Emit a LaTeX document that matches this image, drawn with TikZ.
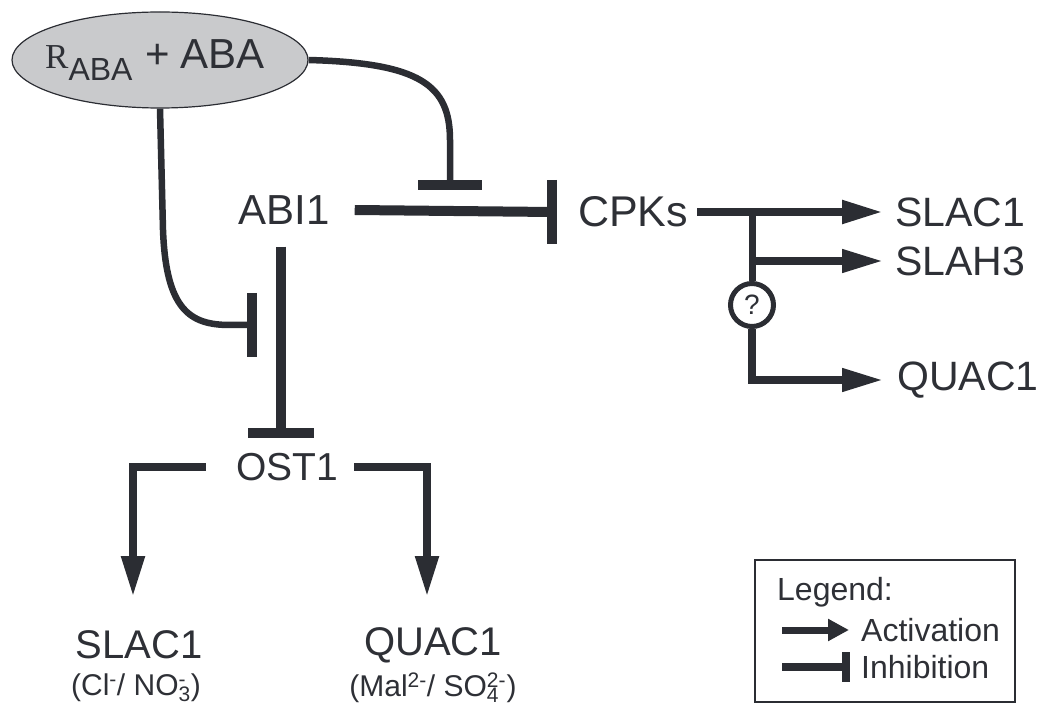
\documentclass[tikz,border=0pt]{standalone}
\usepackage{fontspec}
\setmainfont{Liberation Sans}
\newfontfamily\serifR{Liberation Serif}
\usetikzlibrary{arrows.meta,shapes.geometric}
\definecolor{ink}{HTML}{2B2D33}
\definecolor{txt}{HTML}{2E3036}
\definecolor{ellfill}{HTML}{C9CACC}
\newcommand{\supsub}[2]{\rlap{\textsuperscript{#1}}\textsubscript{#2}}
\begin{document}
\begin{tikzpicture}[x=1pt,y=-1pt,
  lbl/.style={text=txt, inner sep=0pt, font=\fontsize{41}{48}\selectfont},
  ionlbl/.style={text=txt, inner sep=0pt, font=\fontsize{30}{36}\selectfont},
  leglbl/.style={text=txt, inner sep=0pt, font=\fontsize{32}{38}\selectfont},
  inhline/.style={draw=ink, line width=10pt},
  barline/.style={draw=ink, line width=10pt},
  curveline/.style={draw=ink, line width=6.5pt},
  actline/.style={draw=ink, line width=7.5pt, -{Triangle[length=41pt,width=22pt]}},
  branchline/.style={draw=ink, line width=7pt},
]
\useasboundingbox (0,0) rectangle (1042,711);

% receptor ellipse
\node[ellipse, draw=ink, line width=1.2pt, fill=ellfill, minimum width=296, minimum height=96, inner sep=0pt] (rec) at (160,60) {};
\node[inner sep=0pt, text=txt, anchor=base west] (rtxt) at (45,69)
  {{\serifR\fontsize{35}{40}\selectfont R}\raisebox{-12pt}{\fontsize{32}{36}\selectfont ABA}\hspace{13pt}{\fontsize{42}{48}\selectfont +\hspace{10pt}ABA}};

% main labels
\node[lbl, font=\fontsize{42}{48}\selectfont] (abi) at (284,210) {ABI1};
\node[lbl, font=\fontsize{43}{48}\selectfont] (cpk) at (633,212) {CPKs};
\node[lbl, anchor=west] (s1r) at (895,212) {SLAC1};
\node[lbl, anchor=west] (sh3) at (895,261) {SLAH3};
\node[lbl, anchor=west] (q1r) at (897,380) {QUAC1};
\node[lbl, font=\fontsize{39}{46}\selectfont] (ost) at (287,467) {OST1};
\node[lbl, font=\fontsize{40}{46}\selectfont] (s1b) at (139,645) {SLAC1};
\node[lbl, font=\fontsize{40}{46}\selectfont] (q1b) at (433,645) {QUAC1};
\node[ionlbl] (ion1) at (136,688) {(Cl\textsuperscript{-}/ NO\supsub{-}{3})};
\node[ionlbl] (ion2) at (433,688) {(Mal\textsuperscript{2-}/ SO\supsub{2-}{4}\hphantom{\textsuperscript{-}})};

% question circle
\node[circle, draw=ink, line width=5pt, fill=white, minimum size=43, inner sep=0pt, text=txt, font=\fontsize{28}{32}\selectfont] (qc) at (752,305) {?};

% coordinates
\coordinate (cbar) at (552,212);
\coordinate (tbar) at (450,185);
\coordinate (obar) at (281,433);
\coordinate (lbar) at (252,325);
\coordinate (br) at (752,212);
\coordinate (s1tip) at (133,597);
\coordinate (q1tip) at (427,597);

% ABI1 -| CPKs
\draw[inhline] ([xshift=25pt]abi.east) -- (cbar);
\draw[barline] ([yshift=32pt]cbar) -- ([yshift=-32pt]cbar);

% receptor -| (ABI1 -| CPKs)
\draw[curveline] (rec.east) .. controls (420,63) and (450,85) .. (450,140) -- (tbar);
\draw[barline] ([xshift=-32pt]tbar) -- ([xshift=32pt]tbar);

% ABI1 -| OST1
\draw[inhline] ([yshift=-22pt]abi.south -| obar) -- (obar);
\draw[barline] ([xshift=-33pt]obar) -- ([xshift=33pt]obar);

% receptor -| (ABI1 -| OST1)
\draw[curveline] (rec.south) -- (163,230) .. controls (166,310) and (190,325) .. (230,325) -- (lbar);
\draw[barline] ([yshift=32pt]lbar) -- ([yshift=-32pt]lbar);

% CPKs -> channels
\draw[actline, line width=8pt] ([xshift=9pt]cpk.east) -- ([xshift=-12pt]s1r.west);
\draw[branchline] (br) -- (qc.north);
\draw[actline] (br |- sh3.west) -- ([xshift=-12pt]sh3.west);
\draw[actline] (qc.south) |- ([xshift=-14pt]q1r.west);

% OST1 -> channels
\draw[actline, line width=8pt] ([xshift=-30pt]ost.west) -| (s1tip);
\draw[actline, line width=8pt] ([xshift=16pt]ost.east) -| (q1tip);

% legend
\node[draw=ink, line width=1.5pt, minimum width=260, minimum height=142, inner sep=0pt] (leg) at (885,631) {};
\node[leglbl, anchor=west] (legt) at (777,592) {Legend:};
\node[leglbl, anchor=west] (lact) at (861,630) {Activation};
\node[leglbl, anchor=west] (linh) at (861,667) {Inhibition};
\coordinate (la0) at (782,630);
\coordinate (la1) at (849,630);
\coordinate (li0) at (782,667);
\coordinate (li1) at (846,667);
\draw[draw=ink, line width=7pt, -{Triangle[length=21pt,width=21pt]}] (la0) -- (la1);
\draw[draw=ink, line width=8pt] (li0) -- (li1);
\draw[draw=ink, line width=8pt] ([yshift=15pt]li1) -- ([yshift=-15pt]li1);
\end{tikzpicture}
\end{document}
